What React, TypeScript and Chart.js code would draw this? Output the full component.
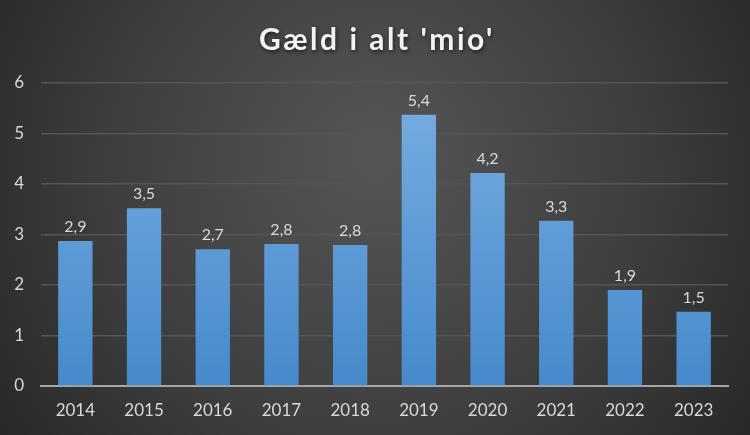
import React, { useEffect, useRef } from "react";
import { Chart, registerables } from "chart.js";

Chart.register(...registerables);

const years = ["2014", "2015", "2016", "2017", "2018", "2019", "2020", "2021", "2022", "2023"];
const debt = [2.87, 3.52, 2.71, 2.81, 2.79, 5.37, 4.22, 3.27, 1.9, 1.47];
const titleText = "Gæld i alt 'mio'";
const FONT = "Lato, 'Open Sans', sans-serif";

const bgPlugin = {
  id: "bg",
  beforeDraw(chart: any) {
    const { ctx, width, height } = chart;
    ctx.save();
    const g = ctx.createRadialGradient(width / 2, height * 0.35, 20, width / 2, height * 0.45, width * 0.62);
    g.addColorStop(0, "#545454");
    g.addColorStop(0.55, "#3e3e3e");
    g.addColorStop(1, "#262626");
    ctx.fillStyle = g;
    ctx.fillRect(0, 0, width, height);
    // title
    ctx.font = `bold 30px ${FONT}`;
    (ctx as any).letterSpacing = "2.5px";
    ctx.textAlign = "center";
    ctx.textBaseline = "middle";
    ctx.shadowColor = "rgba(0,0,0,0.6)";
    ctx.shadowBlur = 4;
    ctx.shadowOffsetX = 1;
    ctx.shadowOffsetY = 2;
    ctx.fillStyle = "#f2f2f2";
    ctx.fillText(titleText, width / 2 + 2, 40);
    ctx.restore();
  },
};

const labelPlugin = {
  id: "vlabels",
  afterDatasetsDraw(chart: any) {
    const { ctx } = chart;
    const meta = chart.getDatasetMeta(0);
    ctx.save();
    ctx.font = `16px ${FONT}`;
    ctx.fillStyle = "#d9d9d9";
    ctx.textAlign = "center";
    ctx.textBaseline = "bottom";
    meta.data.forEach((bar: any, i: number) => {
      const txt = debt[i].toFixed(1).replace(".", ",");
      ctx.fillText(txt, bar.x, bar.y - 6);
    });
    ctx.restore();
  },
};

export default function App() {
  const ref = useRef<HTMLCanvasElement>(null);
  useEffect(() => {
    document.body.style.margin = "0";
    const chart = new Chart(ref.current!, {
      type: "bar",
      data: {
        labels: years,
        datasets: [
          {
            data: debt,
            barPercentage: 0.5,
            categoryPercentage: 1,
            backgroundColor: (c: any) => {
              const ca = c.chart.chartArea;
              if (!ca) return "#5b9bd5";
              const g = c.chart.ctx.createLinearGradient(0, ca.top, 0, ca.bottom);
              g.addColorStop(0, "#78aee3");
              g.addColorStop(1, "#468acb");
              return g;
            },
            borderWidth: 0,
          },
        ],
      },
      options: {
        responsive: false,
        animation: false,
        layout: { padding: { left: 12, right: 22, top: 83, bottom: 0 } },
        plugins: {
          legend: { display: false },
          tooltip: { enabled: false },
          title: { display: false },
        },
        scales: {
          x: {
            grid: { display: false, drawTicks: false },
            border: { color: "#a6a6a6", width: 2 },
            ticks: { color: "#d9d9d9", font: { family: FONT, size: 17 }, padding: 14 },
            afterFit: (s: any) => {
              s.height = 49;
            },
          },
          y: {
            min: 0,
            max: 6,
            grid: { color: "#555555", lineWidth: 1.5, drawTicks: false },
            border: { display: false },
            ticks: { stepSize: 1, color: "#d9d9d9", font: { family: FONT, size: 17 }, padding: 17 },
            afterFit: (s: any) => {
              s.width = 29;
            },
          },
        },
      },
      plugins: [bgPlugin, labelPlugin],
    });
    return () => chart.destroy();
  }, []);
  return <canvas ref={ref} width={750} height={435} style={{ display: "block" }} />;
}
